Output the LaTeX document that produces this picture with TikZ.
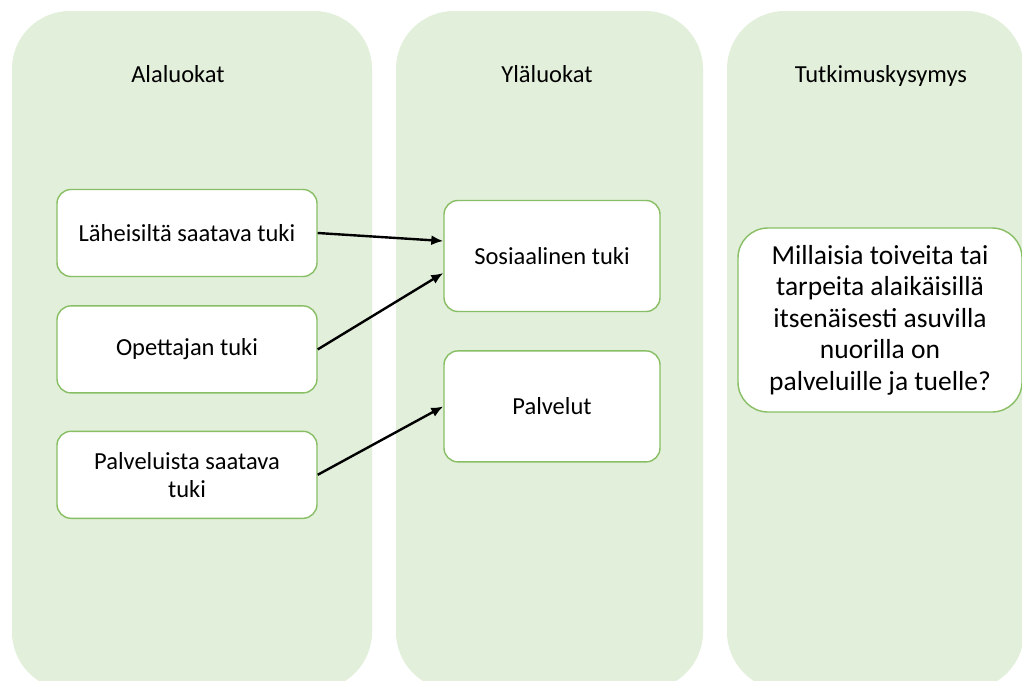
\documentclass[tikz,border=0pt]{standalone}
\usepackage{fontspec}
\setmainfont{Carlito}
\usetikzlibrary{arrows.meta, positioning}
\usepackage{xcolor}
\definecolor{colfill}{RGB}{226,239,218}
\definecolor{boxline}{RGB}{136,190,100}

\begin{document}
\begin{tikzpicture}[x=1pt, y=-1pt,
                    column/.style={fill=colfill, rounded corners=58pt},
                    head/.style={anchor=base, font=\fontsize{24.5}{29}\selectfont},
                    sub node/.style={draw=boxline, line width=1.4pt, fill=white, rounded corners=14pt,
                                     minimum width=260pt, minimum height=87pt, align=center,
                                     font=\fontsize{24.5}{28}\selectfont},
                    main node/.style={sub node, minimum width=216pt, minimum height=111pt},
                    ask node/.style={sub node, rounded corners=30pt, minimum width=284pt, minimum height=184pt,
                                     font=\fontsize{27.5}{31.5}\selectfont}]

  \useasboundingbox (0,0) rectangle (1022,680);
  \clip (0,0) rectangle (1022,680);
  \fill[white] (0,0) rectangle (1022,680);

  % the three columns
  \fill[column] (12,11) rectangle (372,690);
  \fill[column] (396,11) rectangle (703,690);
  \fill[column] (727,11) rectangle (1024,690);

  \node[head] (t1) at (178,82) {Alaluokat};
  \node[head] (t2) at (547,82) {Yläluokat};
  \node[head] (t3) at (881,82) {Tutkimuskysymys};

  \node[sub node] (lah) at (187,233) {Läheisiltä saatava tuki};
  \node[sub node] (ope) [below=28pt of lah] {Opettajan tuki};
  \node[sub node] (pal) [below=37pt of ope] {Palveluista saatava\\tuki};

  \node[main node] (sos) at (552,256) {Sosiaalinen tuki};
  \node[main node] (plv) [below=38pt of sos] {Palvelut};

  \node[ask node] (kys) at (880,320) {Millaisia toiveita tai\\tarpeita alaikäisillä\\itsenäisesti asuvilla\\nuorilla on\\palveluille ja tuelle?};

  \path[-{Latex[length=12pt,width=10pt]}, line width=2.4pt]
    (lah.east) edge ([yshift=15pt]sos.west)
    (ope.east) edge ([yshift=-17pt]sos.west)
    (pal.east) edge (plv.west);
\end{tikzpicture}
\end{document}
